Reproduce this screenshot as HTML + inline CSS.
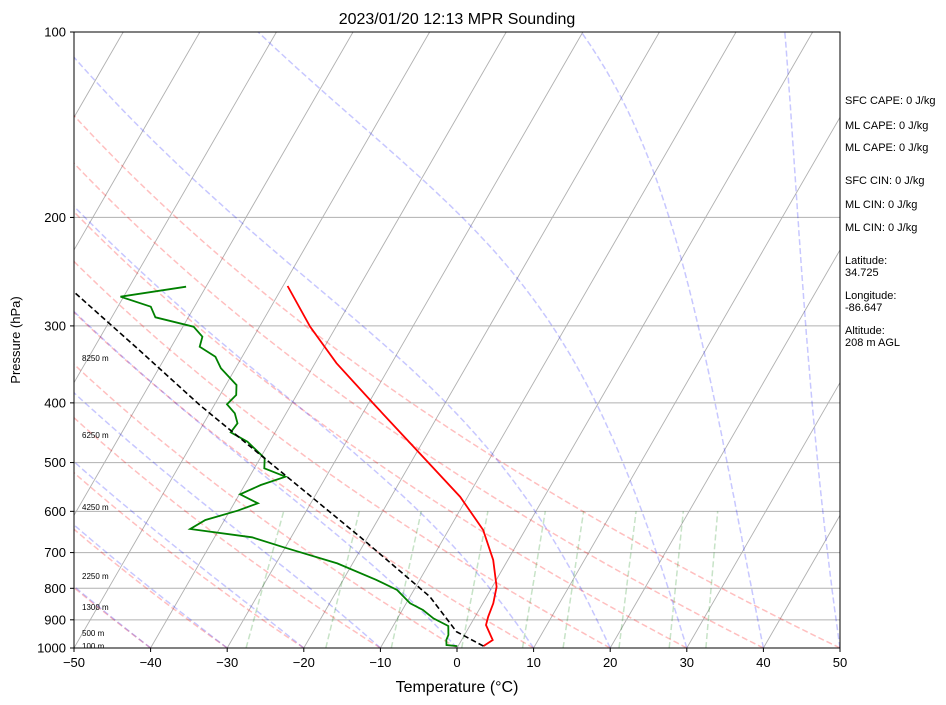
<!DOCTYPE html>
<html><head><meta charset="utf-8">
<style>
body{margin:0;background:#fff;}
svg{font-family:"Liberation Sans",sans-serif;display:block}
</style></head>
<body>
<svg id="chart" width="946" height="705" viewBox="0 0 946 705" xmlns="http://www.w3.org/2000/svg">
<defs><clipPath id="clip"><rect x="74" y="32" width="766" height="616"/></clipPath></defs>
<rect width="946" height="705" fill="#fff"/>
<text x="457" y="24" text-anchor="middle" font-size="16">2023/01/20 12:13 MPR Sounding</text>
<g id="bg" clip-path="url(#clip)"></g>
<g id="data" clip-path="url(#clip)"></g>
<rect x="74" y="32" width="766" height="616" fill="none" stroke="#000" stroke-width="1"/>
<g id="axes"></g>
<text x="457" y="692" text-anchor="middle" font-size="16">Temperature (°C)</text>
<text x="0" y="0" transform="translate(20,340) rotate(-90)" text-anchor="middle" font-size="13">Pressure (hPa)</text>
<g font-size="11">
<text x="845" y="104">SFC CAPE: 0 J/kg</text>
<text x="845" y="129">ML CAPE: 0 J/kg</text>
<text x="845" y="151">ML CAPE: 0 J/kg</text>
<text x="845" y="184">SFC CIN: 0 J/kg</text>
<text x="845" y="208">ML CIN: 0 J/kg</text>
<text x="845" y="231">ML CIN: 0 J/kg</text>
<text x="845" y="264">Latitude:</text>
<text x="845" y="276">34.725</text>
<text x="845" y="299">Longitude:</text>
<text x="845" y="311">-86.647</text>
<text x="845" y="334">Altitude:</text>
<text x="845" y="346">208 m AGL</text>
</g>
</svg>
<script>
const tempP=[993,970.5,917.6,889.6,846,795.4,719.8,643,568,477,400.6,344.9,300.9,258.4];
const tempT=[3.3,4.06,2.05,1.72,1.37,0.56,-1.9,-5.5,-11.0,-20.2,-29.4,-37.2,-43.4,-49.4];
const dewP=[993,988.8,970.5,952.5,921,895.1,867.6,846,805,775,728.8,686.3,661.2,640.9,619.7,598.5,582.2,562.9,543.8,527.2,510.9,492,462.5,446.5,431.7,415.9,402.1,388.4,374.2,351.5,336.6,324.3,312.3,300.9,290.5,279.2,269,259.1];
const dewT=[-0.1,-1.6,-2.0,-2.1,-2.8,-5.3,-7.3,-9.5,-12.2,-15.7,-22.0,-30.2,-35.1,-43.8,-42.5,-39.0,-36.9,-39.9,-37.9,-35.3,-38.7,-39.4,-42.9,-45.8,-45.6,-46.7,-48.4,-47.9,-48.6,-51.9,-53.5,-56.3,-56.7,-58.6,-64.3,-65.7,-70.4,-62.6];
const parcelP=[993,940.8,825.5,660.5,527.2,403.2,325.8,264];
const parcelT=[3.3,-1.3,-7.4,-21.0,-35.1,-51.9,-64.4,-76.9];
const xTicks=[-50,-40,-30,-20,-10,0,10,20,30,40,50];
const yTicks=[100,200,300,400,500,600,700,800,900,1000];
const heightLabels=["100 m","500 m","1300 m","2250 m","4250 m","6250 m","8250 m"];
const heightLabelP=[993,945,858,764,590,451,338];
const mixRatios=[0.0004,0.001,0.002,0.004,0.007,0.01,0.016,0.024,0.032];

const NS="http://www.w3.org/2000/svg";
function Y(p){return 648-616*Math.log10(1000/p);}
function X(T,p){return 74+(T+50)*7.66+0.57735*(648-Y(p));}
function mk(parent,tag,attrs){const e=document.createElementNS(NS,tag);for(const k in attrs)e.setAttribute(k,attrs[k]);parent.appendChild(e);return e;}
function pathD(ps,ts){return ps.map((p,i)=>(i?'L':'M')+X(ts[i],p).toFixed(1)+','+Y(p).toFixed(1)).join('');}
const bg=document.getElementById('bg'),dg=document.getElementById('data'),ax=document.getElementById('axes');

yTicks.forEach(p=>{const l=mk(bg,'line',{x1:74,x2:840,y1:Y(p),y2:Y(p),stroke:'#b0b0b0','stroke-width':1});

});
for(let T=-160;T<=50;T+=10){const l=mk(bg,'line',{x1:X(T,1000),y1:Y(1000),x2:X(T,100),y2:Y(100),stroke:'#b0b0b0','stroke-width':0.9});

}
const levs=[];for(let p=1000;p>=100;p-=10)levs.push(p);
for(let t0=-50;t0<=50;t0+=10){const th=t0+273.15;const ts=levs.map(p=>th*Math.pow(p/1000,0.2857)-273.15);
const e=mk(bg,'path',{d:pathD(levs,ts),fill:'none',stroke:'#ff0000','stroke-opacity':0.25,'stroke-width':1.5,'stroke-dasharray':'6,3'});

}
function es(Tc){return 6.112*Math.exp(17.67*Tc/(Tc+243.5));}
function dTdp(T,p){const Tc=T-273.15;const e=es(Tc);const rs=0.622*e/(p-e);const Rd=287.04,Cp=1005.7,Lv=2.501e6;
return (1/p)*(Rd*T+Lv*rs)/(Cp+Lv*Lv*rs*0.622/(Rd*T*T));}
const moistStarts=[-50,-40,-30,-20,-10,0,10,20,30,40,50];
moistStarts.forEach(t0=>{let T=t0+273.15,p=1000;const ps=[1000],ts=[t0];
while(p>100){const h=-5;const k1=dTdp(T,p);const k2=dTdp(T+h*k1,p+h);T+=h*(k1+k2)/2;p+=h;ps.push(p);ts.push(T-273.15);}
const e=mk(bg,'path',{d:pathD(ps,ts),fill:'none',stroke:'#0000ff','stroke-opacity':0.22,'stroke-width':1.5,'stroke-dasharray':'6,3'});

});
mixRatios.forEach(w=>{const ps=[1000,600];const ts=ps.map(p=>{const e=p*w/(0.622+w);const l=Math.log(e/6.112);return 243.5*l/(17.67-l);});
const e=mk(bg,'path',{d:pathD(ps,ts),fill:'none',stroke:'#008000','stroke-opacity':0.22,'stroke-width':1.5,'stroke-dasharray':'6,3'});

});

const tl=mk(dg,'path',{d:pathD(tempP,tempT),fill:'none',stroke:'#ff0000','stroke-width':1.8});


const dl=mk(dg,'path',{d:pathD(dewP,dewT),fill:'none',stroke:'#008000','stroke-width':1.8});


const pl=mk(dg,'path',{d:pathD(parcelP,parcelT),fill:'none',stroke:'#000','stroke-width':1.6,'stroke-dasharray':'5.5,3'});



heightLabels.forEach((s,i)=>{const t=mk(bg,'text',{x:82,y:Y(heightLabelP[i])+3,'font-size':8,fill:'#000'});t.textContent=s;

});

xTicks.forEach(T=>{const x=74+(T+50)*7.66;mk(ax,'line',{x1:x,x2:x,y1:648,y2:652,stroke:'#000'});
const t=mk(ax,'text',{x:x,y:667,'text-anchor':'middle','font-size':13});t.textContent=String(T).replace('-','\u2212');

});
yTicks.forEach(p=>{const y=Y(p);mk(ax,'line',{x1:70,x2:74,y1:y,y2:y,stroke:'#000'});
const t=mk(ax,'text',{x:66,y:y+4.5,'text-anchor':'end','font-size':13});t.textContent=p;

});
</script>
</body></html>
